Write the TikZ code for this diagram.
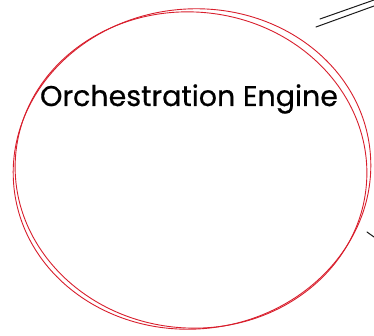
\documentclass[tikz,border=0pt]{standalone}
\usepackage{fontspec}
\newfontfamily\handfont[FakeBold=0.6]{Poppins}
\definecolor{inkred}{HTML}{D81E2C}
\definecolor{ink}{HTML}{1A1A1A}
\begin{document}
\begin{tikzpicture}[x=1pt,y=-1pt,
  redstroke/.style={draw=inkred,line width=0.9pt},
  blackstroke/.style={draw=ink,line width=1pt,line cap=round},
  label/.style={font=\handfont\fontsize{28.5}{32}\selectfont,text=black,inner sep=0pt}]
\useasboundingbox (0,0) rectangle (374,336);
% hand-drawn double circle
\draw[redstroke,rotate around={6:(192,169)}] (192,169) ellipse [x radius=179pt, y radius=160pt];
\draw[redstroke,rotate around={-5:(191,170)}] (191,170) ellipse [x radius=176pt, y radius=158pt];
\node[label] (title) at (189,99) {Orchestration Engine};
% connector fragments
\coordinate (a1) at (320,19); \coordinate (a2) at (374,0);
\coordinate (b1) at (316,27); \coordinate (b2) at (374,6);
\coordinate (c1) at (367,232); \coordinate (c2) at (374,237);
\draw[blackstroke] (a1) -- (a2);
\draw[blackstroke] (b1) -- (b2);
\draw[blackstroke] (c1) -- (c2);
\end{tikzpicture}
\end{document}
